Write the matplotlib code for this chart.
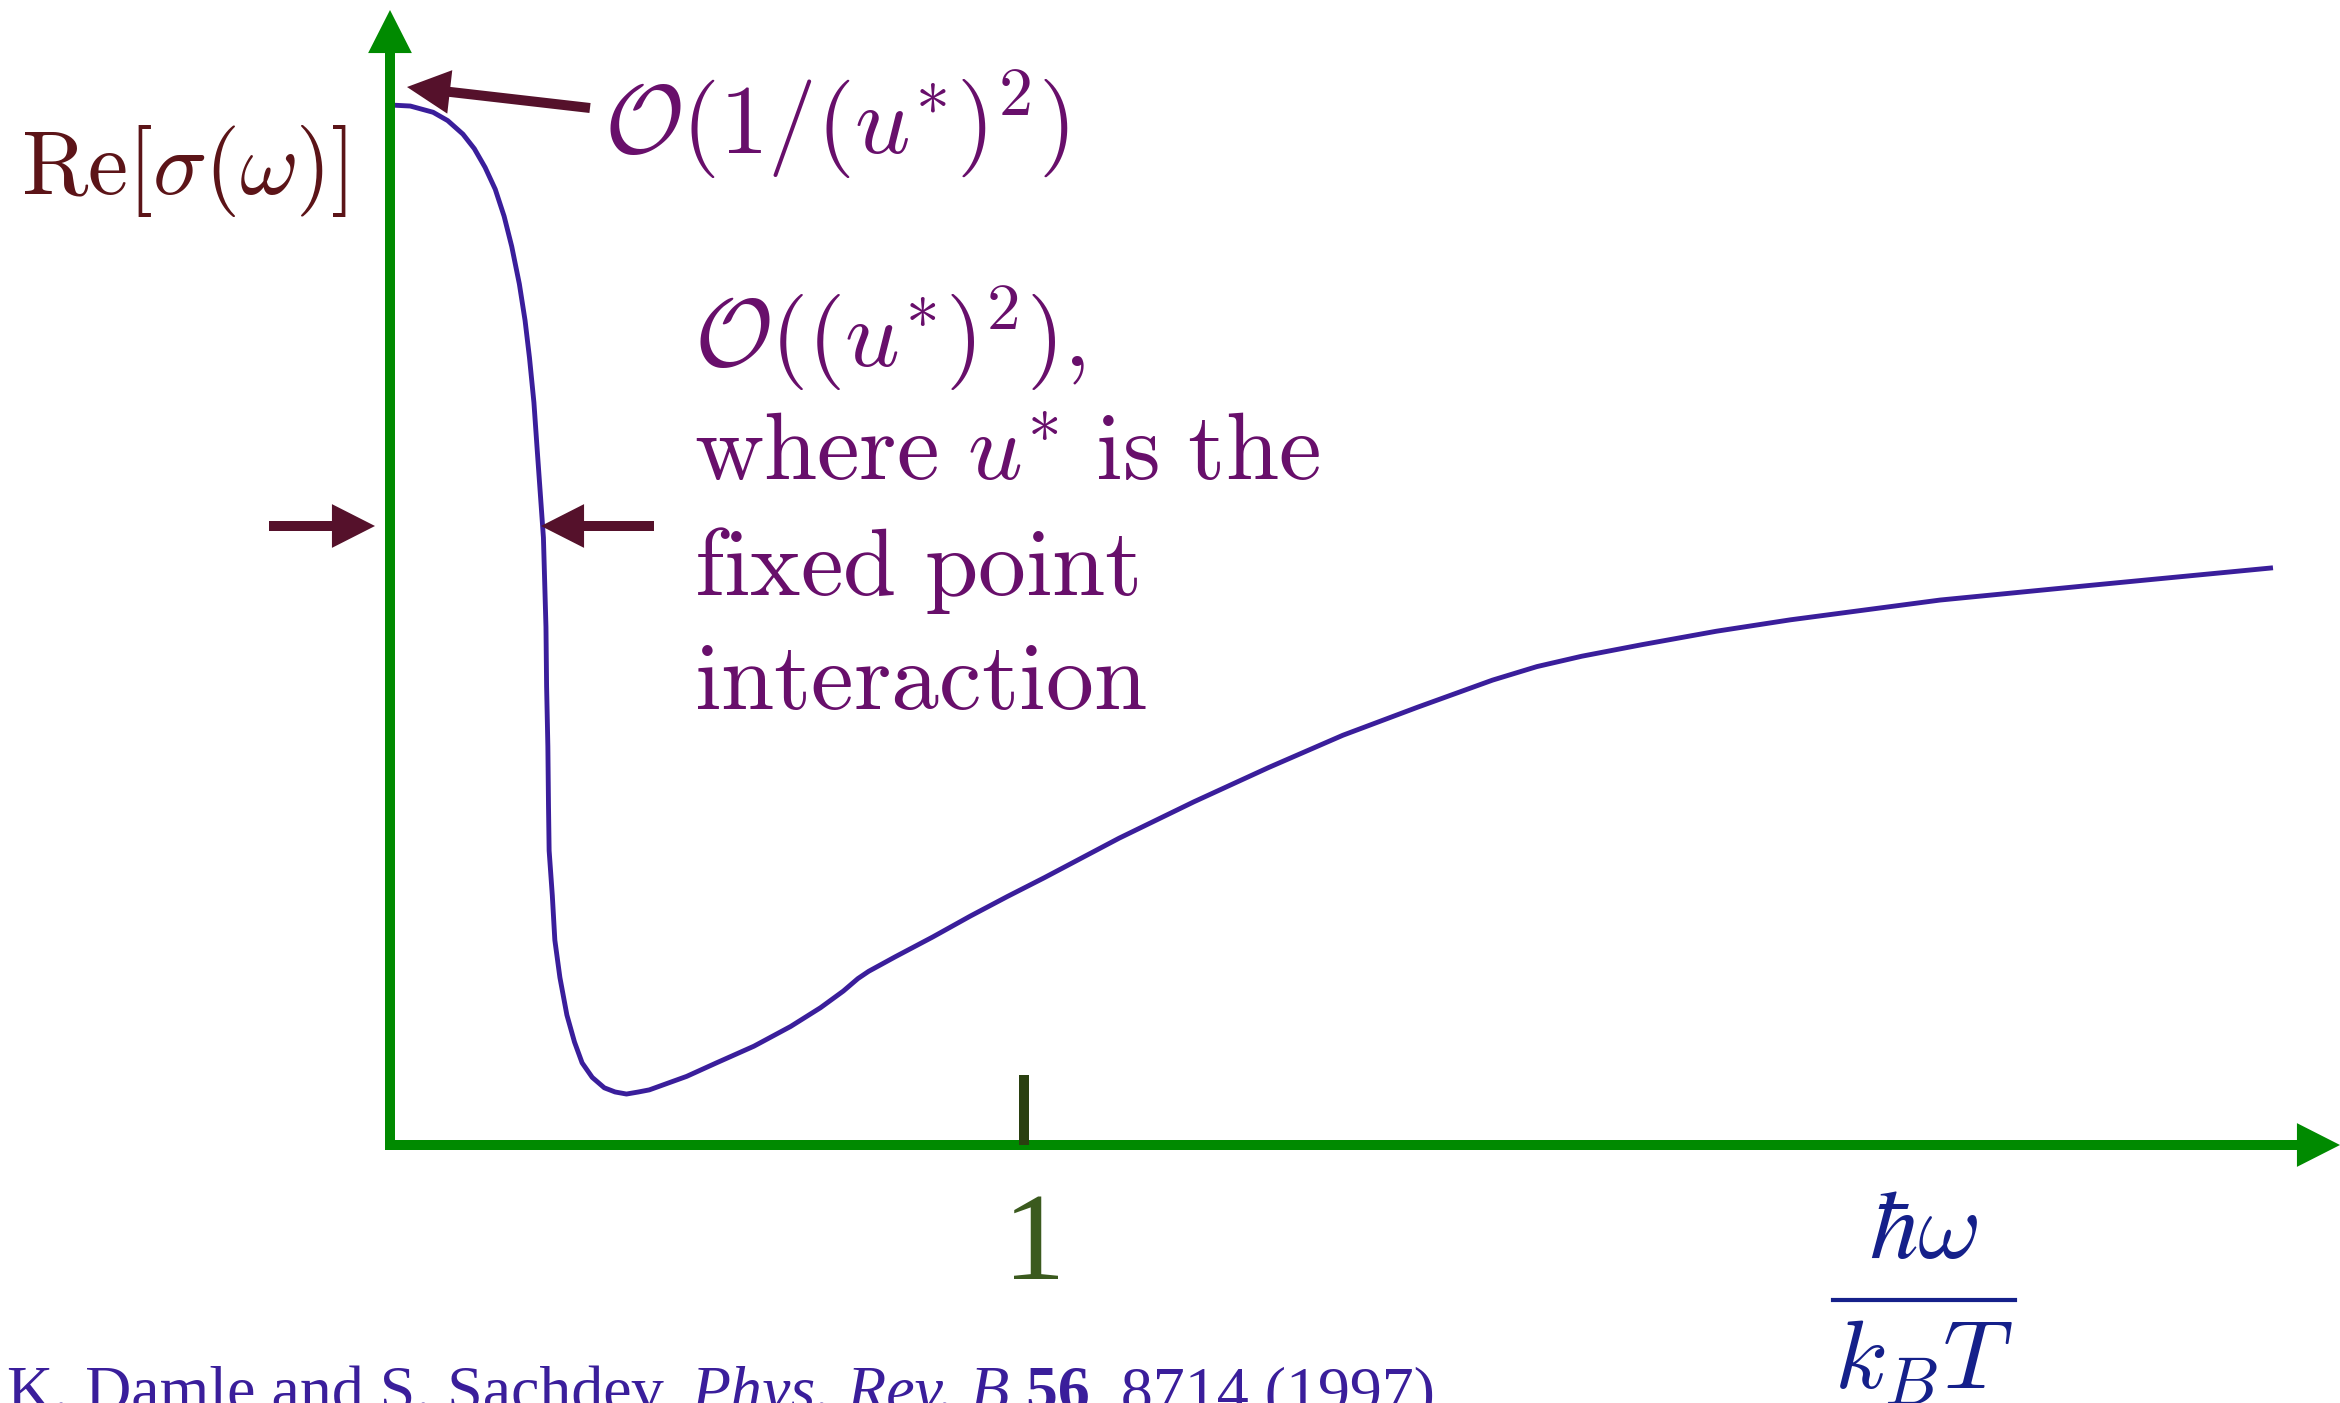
import matplotlib
matplotlib.use("Agg")
import matplotlib.pyplot as plt
from matplotlib.patches import FancyArrowPatch, ArrowStyle

plt.rcParams['mathtext.fontset'] = 'cm'

# curve: x = hbar*omega/(k_B T), y = Re[sigma(omega)] (arbitrary units)
omega = [0.000, 0.032, 0.068, 0.091, 0.115, 0.133, 0.150, 0.166, 0.180, 0.192,
         0.204, 0.213, 0.220, 0.227, 0.232, 0.237, 0.242, 0.244, 0.246, 0.247,
         0.249, 0.250, 0.251, 0.256, 0.260, 0.268, 0.279, 0.291, 0.303, 0.319,
         0.338, 0.355, 0.373, 0.392, 0.409, 0.468, 0.515, 0.574, 0.632, 0.679,
         0.715, 0.738, 0.755, 0.797, 0.856, 0.915, 0.974, 1.032, 1.150, 1.268,
         1.386, 1.503, 1.621, 1.739, 1.809, 1.880, 1.974, 2.092, 2.209, 2.445,
         2.680, 2.970]
re_sigma = [1.000, 0.999, 0.993, 0.985, 0.972, 0.958, 0.940, 0.919, 0.893, 0.864,
            0.828, 0.793, 0.757, 0.714, 0.670, 0.627, 0.584, 0.541, 0.498, 0.441,
            0.383, 0.326, 0.283, 0.240, 0.197, 0.161, 0.125, 0.099, 0.079, 0.065,
            0.055, 0.051, 0.049, 0.051, 0.053, 0.066, 0.079, 0.095, 0.114, 0.132,
            0.148, 0.160, 0.167, 0.181, 0.200, 0.220, 0.239, 0.257, 0.295, 0.330,
            0.363, 0.394, 0.421, 0.447, 0.460, 0.470, 0.481, 0.494, 0.505, 0.524,
            0.538, 0.555]
x_ticks = [1]
x_tick_labels = ['1']

# colours
GREEN = '#008a00'
CURVE = '#3a1e9b'
MAROON = '#55112b'
PURPLE = '#680f6b'
NAVY = '#15208a'

W, H = 2340, 1403
X0, Y0, SX, SY = 390, 1145, 634, 1040   # pixel position of origin and pixels per unit


def px(xp, yp):
    """pixel position in the picture -> data coordinates"""
    return (xp - X0) / SX, (Y0 - yp) / SY


fig = plt.figure(figsize=(W / 100, H / 100), dpi=100)
ax = fig.add_axes([0, 0, 1, 1])
ax.set_xlim(px(0, 0)[0], px(W, 0)[0])
ax.set_ylim(px(0, H)[1], px(0, 0)[1])
ax.axis('off')


def arrow(p_from, p_to, color, tail=7.2, head_w=31.5, head_l=31.0):
    st = ArrowStyle('simple', head_length=head_l / 10, head_width=head_w / 10,
                    tail_width=tail / 10)
    a = FancyArrowPatch(p_from, p_to, arrowstyle=st, mutation_scale=10,
                        color=color, lw=0, shrinkA=0, shrinkB=0, zorder=3)
    ax.add_patch(a)


# axes with arrow heads
arrow(px(390, 1150), px(390, 10), GREEN)
arrow(px(385, 1145), px(2340, 1145), GREEN)

# tick at 1
for t, lab in zip(x_ticks, x_tick_labels):
    ax.plot([t, t], [0, px(0, 1075)[1]], color='#2a4010', lw=7.2,
            solid_capstyle='butt', zorder=4)
    ax.text(t + 0.016, px(0, 1279)[1], lab, fontsize=90, family='Liberation Serif',
            color='#3b5a1e', ha='center', va='baseline')

# the conductivity curve
ax.plot(omega, re_sigma, color=CURVE, lw=3.5, zorder=2,
        solid_joinstyle='round', solid_capstyle='butt')

# annotation arrows
arrow(px(590, 108), px(407, 87), MAROON)
arrow(px(269, 526), px(375, 526), MAROON)
arrow(px(654, 526), px(541, 526), MAROON)

# labels
ax.text(*px(21, 194), r'$\mathrm{Re}[\sigma(\omega)]$', fontsize=65,
        color='#5c1418', ha='left', va='baseline')
ax.text(*px(604, 154), r'$\mathcal{O}(1/(u^{*})^2)$', fontsize=70,
        color=PURPLE, ha='left', va='baseline')

block = [r'$\mathcal{O}((u^{*})^2),$',
         r'$\mathrm{where}\ u^{*}\ \mathrm{is\ the}$',
         r'$\mathrm{fixed\ point}$',
         r'$\mathrm{interaction}$']
for i, line in enumerate(block):
    ax.text(*px(694, 367 + 114 * i), line, fontsize=69, color=PURPLE,
            ha='left', va='baseline')

# x axis label as a fraction
ax.text(*px(1924, 1258), r'$\hbar\omega$', fontsize=70, color=NAVY,
        ha='center', va='baseline')
ax.plot([px(1833, 0)[0], px(2015, 0)[0]], [px(0, 1300)[1]] * 2, color=NAVY, lw=3)
ax.text(*px(1924, 1388), r'$k_B T$', fontsize=70, color=NAVY,
        ha='center', va='baseline')

# citation, pieces with different styles
pieces = [('K. Damle and S. Sachdev, ', 'normal', 'normal'),
          ('Phys. Rev. B', 'italic', 'normal'),
          (' 56', 'normal', 'bold'),
          (', 8714 (1997)', 'normal', 'normal')]
fig.canvas.draw()
renderer = fig.canvas.get_renderer()
xc, yc = px(7, 1410)
for txt, style, weight in pieces:
    t = ax.text(xc, yc, txt, fontsize=46, family='Liberation Serif', style=style,
                weight=weight, color=CURVE, ha='left', va='baseline')
    bb = t.get_window_extent(renderer)
    xc = ax.transData.inverted().transform((bb.x1, bb.y0))[0]

fig.savefig('out.png', dpi=100)
